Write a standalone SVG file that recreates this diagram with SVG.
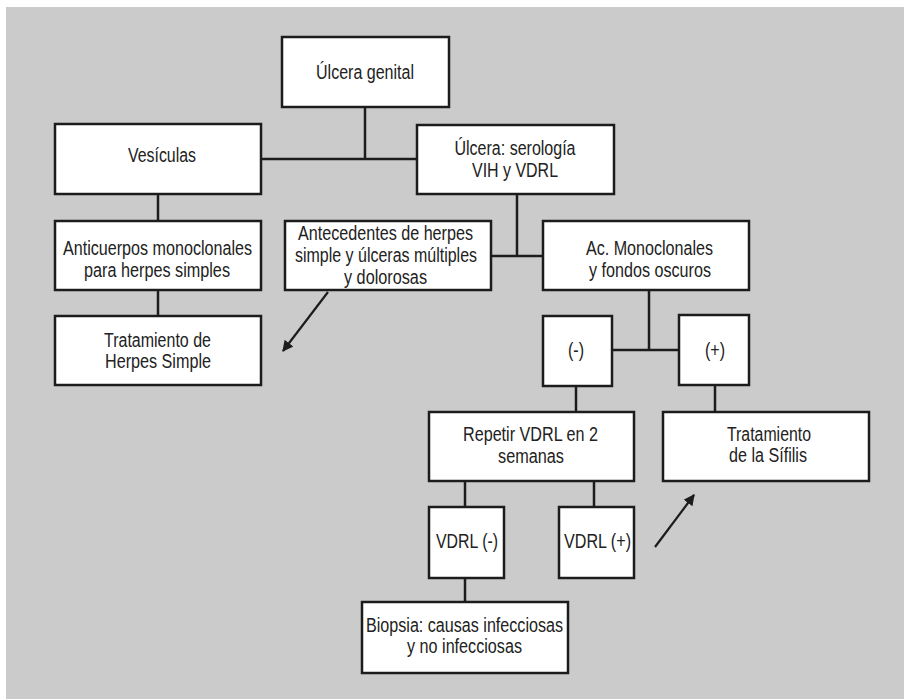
<svg xmlns="http://www.w3.org/2000/svg" width="904" height="699" viewBox="0 0 904 699">
<defs>
<style>
.bx{fill:#fff;stroke:#1c1c1c;stroke-width:2.5}
.ln{fill:none;stroke:#1c1c1c;stroke-width:2.5}
.ar{fill:none;stroke:#1c1c1c;stroke-width:2.2}
text{font-family:"Liberation Sans Narrow","Liberation Sans",Arial,sans-serif;font-size:19.5px;fill:#222;text-anchor:middle}
</style>
<marker id="ah" viewBox="0 0 10 10" refX="9" refY="5" markerWidth="5" markerHeight="5" orient="auto" markerUnits="strokeWidth">
<path d="M0,0 L10,5 L0,10 z" fill="#1c1c1c"/>
</marker>
</defs>
<rect x="0" y="0" width="904" height="699" fill="#fff"/>
<rect x="6" y="7" width="898" height="692" fill="#cbcbcb"/>
<g id="connectors">
<path class="ln" d="M365,107 V159 M261,159 H417"/>
<path class="ln" d="M158,194 V221 M158,290 V316"/>
<path class="ln" d="M517,194 V256 M491,256 H543"/>
<path class="ln" d="M649,290 V350 M612,350 H679"/>
<path class="ln" d="M576,386 V412 M715,385 V412"/>
<path class="ln" d="M465,481 V507 M594,481 V507 M465,578 V602"/>
<line class="ar" x1="328" y1="292" x2="283" y2="351" marker-end="url(#ah)"/>
<line class="ar" x1="655" y1="547" x2="694" y2="495" marker-end="url(#ah)"/>
</g>
<g id="n-ulcera-genital"><rect class="bx" x="282" y="37" width="167" height="70"/><text x="365" y="79" textLength="98" lengthAdjust="spacingAndGlyphs">Úlcera genital</text></g>
<g id="n-vesiculas"><rect class="bx" x="55" y="124" width="206" height="70"/><text x="162" y="162" textLength="68" lengthAdjust="spacingAndGlyphs">Vesículas</text></g>
<g id="n-ulcera-serologia"><rect class="bx" x="417" y="125" width="197" height="69"/><text x="515" y="155" textLength="121" lengthAdjust="spacingAndGlyphs">Úlcera: serología</text><text x="515" y="177" textLength="86" lengthAdjust="spacingAndGlyphs">VIH y VDRL</text></g>
<g id="n-anticuerpos"><rect class="bx" x="55" y="221" width="206" height="69"/><text x="157.5" y="255" textLength="189" lengthAdjust="spacingAndGlyphs">Anticuerpos monoclonales</text><text x="157" y="277" textLength="146" lengthAdjust="spacingAndGlyphs">para herpes simples</text></g>
<g id="n-trat-herpes"><rect class="bx" x="55" y="316" width="206" height="69"/><text x="157.5" y="347" textLength="107" lengthAdjust="spacingAndGlyphs">Tratamiento de</text><text x="158" y="368" textLength="106" lengthAdjust="spacingAndGlyphs">Herpes Simple</text></g>
<g id="n-antecedentes"><rect class="bx" x="285" y="221" width="206" height="69"/><text x="385.5" y="240" textLength="175" lengthAdjust="spacingAndGlyphs">Antecedentes de herpes</text><text x="386" y="262" textLength="182" lengthAdjust="spacingAndGlyphs">simple y úlceras múltiples</text><text x="385.5" y="284" textLength="83" lengthAdjust="spacingAndGlyphs">y dolorosas</text></g>
<g id="n-ac-monoclonales"><rect class="bx" x="543" y="221" width="206" height="69"/><text x="649.5" y="255" textLength="127" lengthAdjust="spacingAndGlyphs">Ac. Monoclonales</text><text x="650" y="277" textLength="122" lengthAdjust="spacingAndGlyphs">y fondos oscuros</text></g>
<g id="n-neg"><rect class="bx" x="543" y="316" width="69" height="70"/><text x="576" y="357" textLength="16" lengthAdjust="spacingAndGlyphs">(-)</text></g>
<g id="n-pos"><rect class="bx" x="679" y="315" width="70" height="70"/><text x="715" y="357" textLength="20" lengthAdjust="spacingAndGlyphs">(+)</text></g>
<g id="n-repetir"><rect class="bx" x="429" y="412" width="205" height="69"/><text x="530.5" y="441" textLength="135" lengthAdjust="spacingAndGlyphs">Repetir VDRL en 2</text><text x="531" y="463" textLength="66" lengthAdjust="spacingAndGlyphs">semanas</text></g>
<g id="n-trat-sifilis"><rect class="bx" x="663" y="412" width="206" height="69"/><text x="769" y="441" textLength="84" lengthAdjust="spacingAndGlyphs">Tratamiento</text><text x="768" y="462" textLength="78" lengthAdjust="spacingAndGlyphs">de la Sífilis</text></g>
<g id="n-vdrl-neg"><rect class="bx" x="429" y="507" width="75" height="71"/><text x="467" y="548" textLength="62" lengthAdjust="spacingAndGlyphs">VDRL (-)</text></g>
<g id="n-vdrl-pos"><rect class="bx" x="559" y="507" width="75" height="71"/><text x="597.5" y="548" textLength="67" lengthAdjust="spacingAndGlyphs">VDRL (+)</text></g>
<g id="n-biopsia"><rect class="bx" x="362" y="602" width="206" height="71"/><text x="464.5" y="632" textLength="197" lengthAdjust="spacingAndGlyphs">Biopsia: causas infecciosas</text><text x="464.5" y="653" textLength="115" lengthAdjust="spacingAndGlyphs">y no infecciosas</text></g>
</svg>
